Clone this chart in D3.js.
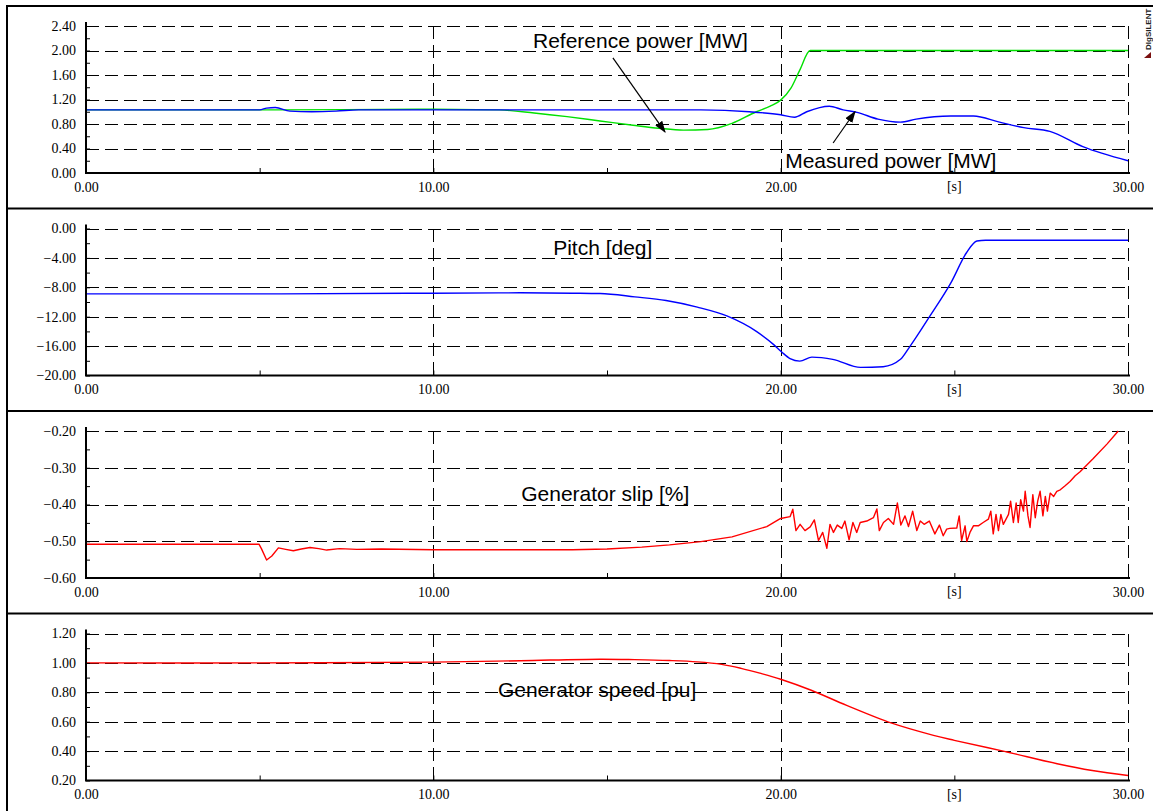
<!DOCTYPE html>
<html>
<head>
<meta charset="utf-8">
<script src="https://cdn.jsdelivr.net/npm/d3@7/dist/d3.min.js"></script>
<style>
  html, body { margin: 0; padding: 0; background: #fff; }
  svg { display: block; }
  .tick text { font-family: "Liberation Serif", "Times New Roman", serif; font-size: 14px; fill: #000; }
  .title { font-family: "Liberation Sans", Arial, sans-serif; font-size: 21px; fill: #000; }
</style>
</head>
<body>
<svg id="chart" width="1153" height="811"></svg>
<script>
// ---- time axis ----
const timeTicks = [0, 10, 20, 30];
const timeMinorTicks = [5, 15, 25];

// ---- panel 1: power [MW] ----
const powerTicks = [0, 0.4, 0.8, 1.2, 1.6, 2.0, 2.4];
const refPowerT = [0, 5, 10, 11.9, 12.9, 13.85, 14.8, 15.75, 16.5, 17.2, 17.9, 18.6, 19.3, 19.7, 20.0, 20.3, 20.55, 20.85, 30];
const refPowerV = [1.03, 1.03, 1.04, 1.03, 0.98, 0.92, 0.85, 0.78, 0.73, 0.70, 0.71, 0.81, 1.0, 1.09, 1.19, 1.39, 1.68, 2.0, 2.0];
const measPowerT = [0, 5.0, 5.2, 5.45, 5.87, 6.5, 7.2, 7.85, 10, 12, 15, 17.7, 19.1, 20.0, 20.4, 20.75, 21.4, 21.8, 22.2, 22.8, 23.45, 23.9, 24.9, 25.55, 26.3, 27.0, 27.75, 28.7, 30];
const measPowerV = [1.03, 1.03, 1.06, 1.07, 1.01, 1.0, 1.01, 1.03, 1.03, 1.03, 1.03, 1.03, 1.0, 0.95, 0.91, 1.0, 1.09, 1.03, 0.99, 0.88, 0.83, 0.88, 0.93, 0.93, 0.83, 0.74, 0.68, 0.43, 0.20];

// ---- panel 2: pitch [deg] ----
const pitchTicks = [-20, -16, -12, -8, -4, 0];
const pitchT = [0, 5, 10, 12.5, 14, 14.8, 15.8, 16.7, 17.6, 18.45, 19.3, 19.8, 20.03, 20.27, 20.55, 20.9, 21.5, 22.3, 22.95, 23.45, 23.7, 24.3, 24.9, 25.35, 25.65, 25.9, 30];
const pitchV = [-8.9, -8.9, -8.8, -8.75, -8.8, -8.85, -9.3, -9.8, -10.7, -11.9, -14.0, -15.8, -16.8, -17.7, -18.05, -17.5, -17.8, -18.9, -18.8, -17.8, -16.2, -11.9, -7.4, -3.3, -1.7, -1.6, -1.6];

// ---- panel 3: generator slip [%] ----
const slipTicks = [-0.6, -0.5, -0.4, -0.3, -0.2];
const slipT = [0, 4.98, 5.05, 5.2, 5.35, 5.54, 5.75, 5.97, 6.2, 6.45, 6.7, 6.93, 7.3, 7.8, 8.5, 10, 14, 15, 16, 16.8, 17.7, 18.6, 19.6, 20.0, 20.27,
  20.35, 20.44, 20.56, 20.70, 20.85, 20.97, 21.09, 21.21, 21.33, 21.42, 21.52, 21.63, 21.76, 21.85, 21.97, 22.08, 22.19, 22.29, 22.48, 22.67,
  22.77, 22.84, 22.96, 23.10, 23.25, 23.36, 23.46, 23.58, 23.68, 23.80, 23.92, 24.02, 24.13, 24.28, 24.44, 24.57, 24.68, 24.78, 24.87, 25.07,
  25.14, 25.21, 25.31, 25.36, 25.45, 25.55, 25.69, 25.83, 25.98, 26.05, 26.12, 26.20, 26.27, 26.34, 26.41, 26.56, 26.62, 26.70, 26.78, 26.84,
  26.91, 26.99, 27.04, 27.12, 27.18, 27.26, 27.33, 27.40, 27.47, 27.55, 27.62, 27.68, 27.76, 27.86, 27.95, 28.05, 28.19, 28.33, 28.48, 28.62,
  29.0, 29.4, 29.72];
const slipV = [-0.508, -0.508, -0.52, -0.551, -0.54, -0.518, -0.522, -0.526, -0.521, -0.517, -0.52, -0.524, -0.52, -0.522, -0.521, -0.523, -0.523, -0.521, -0.516, -0.51, -0.501, -0.488, -0.46, -0.438, -0.433,
  -0.413, -0.471, -0.454, -0.471, -0.461, -0.442, -0.498, -0.476, -0.519, -0.454, -0.476, -0.456, -0.465, -0.445, -0.496, -0.449, -0.476, -0.449, -0.445, -0.436,
  -0.412, -0.471, -0.449, -0.438, -0.454, -0.396, -0.456, -0.431, -0.460, -0.418, -0.471, -0.445, -0.454, -0.445, -0.480, -0.456, -0.485, -0.467, -0.465, -0.464,
  -0.431, -0.498, -0.458, -0.501, -0.476, -0.458, -0.458, -0.449, -0.440, -0.418, -0.480, -0.427, -0.471, -0.427, -0.454, -0.427, -0.391, -0.449, -0.396, -0.449,
  -0.387, -0.418, -0.364, -0.431, -0.4625, -0.373, -0.436, -0.391, -0.364, -0.431, -0.378, -0.418, -0.369, -0.378, -0.364, -0.360, -0.349, -0.3375, -0.322, -0.311,
  -0.275, -0.235, -0.20];

// ---- panel 4: generator speed [pu] ----
const speedTicks = [0.2, 0.4, 0.6, 0.8, 1.0, 1.2];
const speedT = [0, 5, 10, 12.5, 14.8, 15.8, 16.8, 17.6, 18.3, 18.86, 19.4, 20, 20.88, 21.9, 23.2, 24.4, 25.0, 26.44, 27.96, 28.97, 30];
const speedV = [1.0, 1.0, 1.005, 1.015, 1.025, 1.022, 1.016, 1.007, 0.99, 0.963, 0.93, 0.889, 0.814, 0.711, 0.59, 0.507, 0.473, 0.398, 0.314, 0.268, 0.234];

const zip = (ts, vs) => ts.map((t, i) => ({ t, v: vs[i] }));

const panels = [
  {
    domain: [0, 2.4], ticks: powerTicks,
    series: [
      { data: zip(refPowerT, refPowerV), color: "#00e000", curve: d3.curveMonotoneX },
      { data: zip(measPowerT, measPowerV), color: "#0000ff", curve: d3.curveMonotoneX }
    ],
    labels: [
      { text: "Reference power [MW]", t: 12.87, v: 2.04 },
      { text: "Measured power [MW]", t: 20.13, v: 0.08 }
    ],
    arrows: [
      { from: [15.17, 1.88], to: [16.67, 0.67] },
      { from: [21.51, 0.49], to: [22.14, 1.0] }
    ]
  },
  {
    domain: [-20, 0], ticks: pitchTicks,
    series: [{ data: zip(pitchT, pitchV), color: "#0000ff", curve: d3.curveMonotoneX }],
    labels: [{ text: "Pitch [deg]", t: 13.45, v: -3.67 }],
    arrows: []
  },
  {
    domain: [-0.6, -0.2], ticks: slipTicks,
    series: [{ data: zip(slipT, slipV), color: "#ff0000", curve: d3.curveLinear }],
    labels: [{ text: "Generator slip [%]", t: 12.53, v: -0.39 }],
    arrows: []
  },
  {
    domain: [0.2, 1.2], ticks: speedTicks,
    series: [{ data: zip(speedT, speedV), color: "#ff0000", curve: d3.curveCatmullRom.alpha(0.5) }],
    labels: [{ text: "Generator speed [pu]", t: 11.86, v: 0.771 }],
    arrows: []
  }
];

const svg = d3.select("#chart");
const frameLeft = 7, frameTop = 6, panelH = 202.5, frameRight = 1153;
const plotLeft = 86, plotRight = 1128, plotOffset = 20, plotH = 147;

const x = d3.scaleLinear().domain([0, 30]).range([plotLeft, plotRight]);
const fmt = d3.format(".2f");

svg.append("defs").append("marker")
  .attr("id", "arrowhead").attr("viewBox", "0 0 10 10")
  .attr("refX", 9).attr("refY", 5)
  .attr("markerWidth", 12).attr("markerHeight", 12)
  .attr("markerUnits", "userSpaceOnUse")
  .attr("orient", "auto")
  .append("path").attr("d", "M0,1.5 L10,5 L0,8.5 Z").attr("fill", "#000");

// outer frame and panel separators
svg.append("line").attr("x1", frameLeft).attr("x2", frameLeft).attr("y1", frameTop - 1).attr("y2", 811)
  .attr("stroke", "#000").attr("stroke-width", 2);
for (let i = 0; i < 4; i++) {
  const yy = frameTop + i * panelH;
  svg.append("line").attr("x1", frameLeft).attr("x2", frameRight).attr("y1", yy).attr("y2", yy)
    .attr("stroke", "#000").attr("stroke-width", 2);
}

panels.forEach((p, i) => {
  const top = frameTop + i * panelH + plotOffset;
  const bottom = top + plotH;
  const y = d3.scaleLinear().domain(p.domain).range([bottom, top]);
  const g = svg.append("g");

  // minor tick values: midpoints between major ticks
  const minor = p.ticks.slice(1).map((t, k) => (t + p.ticks[k]) / 2);

  // dashed grid
  const grid = g.append("g").attr("stroke", "#000").attr("stroke-width", 1)
    .attr("stroke-dasharray", "13,6").attr("shape-rendering", "crispEdges");
  p.ticks.slice(1).forEach(tv => {
    grid.append("line").attr("x1", plotLeft).attr("x2", plotRight)
      .attr("y1", Math.round(y(tv)) + 0.5).attr("y2", Math.round(y(tv)) + 0.5);
  });
  timeTicks.slice(1).forEach(tv => {
    grid.append("line").attr("x1", Math.round(x(tv)) + 0.5).attr("x2", Math.round(x(tv)) + 0.5)
      .attr("y1", top).attr("y2", bottom);
  });

  // data lines
  const clipId = "clip" + i;
  g.append("clipPath").attr("id", clipId).append("rect")
    .attr("x", plotLeft).attr("y", top - 1).attr("width", plotRight - plotLeft + 1).attr("height", plotH + 1);
  p.series.forEach(s => {
    g.append("path").datum(s.data)
      .attr("clip-path", `url(#${clipId})`)
      .attr("fill", "none").attr("stroke", s.color).attr("stroke-width", 1.4)
      .attr("stroke-linejoin", "round")
      .attr("d", d3.line().x(d => x(d.t)).y(d => y(d.v)).curve(s.curve));
  });

  // y axis
  const yAxis = g.append("g").attr("transform", `translate(${plotLeft},0)`)
    .call(d3.axisLeft(y).tickValues(p.ticks).tickFormat(fmt).tickSize(-4).tickSizeOuter(0).tickPadding(10));
  yAxis.select(".domain").attr("stroke-width", 2).attr("d", `M0,${top - 4}V${bottom}`);
  yAxis.selectAll(".tick line").attr("stroke-width", 1);
  g.append("g").attr("transform", `translate(${plotLeft},0)`)
    .call(d3.axisLeft(y).tickValues(minor).tickFormat("").tickSize(-4).tickSizeOuter(0))
    .call(a => a.select(".domain").remove());

  // x axis
  const xAxis = g.append("g").attr("transform", `translate(0,${bottom})`)
    .call(d3.axisBottom(x).tickValues(timeTicks).tickFormat(fmt).tickSize(-5).tickSizeOuter(0).tickPadding(9));
  xAxis.select(".domain").attr("stroke-width", 2).attr("d", `M${plotLeft - 1},0H${plotRight + 2}`);
  g.append("g").attr("transform", `translate(0,${bottom})`)
    .call(d3.axisBottom(x).tickValues(timeMinorTicks).tickFormat("").tickSize(-5).tickSizeOuter(0))
    .call(a => a.select(".domain").remove());
  g.append("text").attr("class", "tick")
    .attr("x", x(25)).attr("y", bottom + 18)
    .attr("text-anchor", "middle")
    .style("font-family", "'Liberation Serif', serif").style("font-size", "14px")
    .text("[s]");

  // curve labels and arrows
  p.labels.forEach(l => {
    g.append("text").attr("class", "title").attr("x", x(l.t)).attr("y", y(l.v)).text(l.text);
  });
  p.arrows.forEach(a => {
    g.append("line")
      .attr("x1", x(a.from[0])).attr("y1", y(a.from[1]))
      .attr("x2", x(a.to[0])).attr("y2", y(a.to[1]))
      .attr("stroke", "#000").attr("stroke-width", 1.2)
      .attr("marker-end", "url(#arrowhead)");
  });
});

// software mark in the top-right corner
const mark = svg.append("g").attr("transform", "translate(1151,50) rotate(-90)");
mark.append("text").attr("x", 0).attr("y", 0)
  .style("font-family", "'Liberation Sans', Arial, sans-serif").style("font-size", "8px").style("font-weight", "bold")
  .attr("fill", "#222").text("DIgSILENT");
svg.append("path").attr("d", "M1144,58 L1151,52 L1151,58 Z").attr("fill", "#7a1010");
</script>
</body>
</html>
